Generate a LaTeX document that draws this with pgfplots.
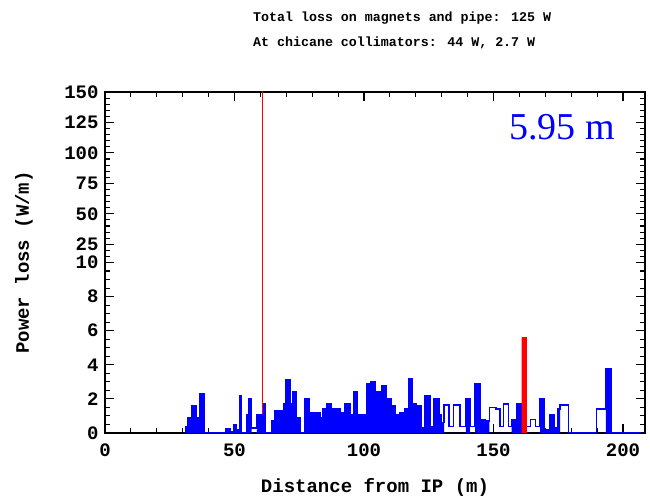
\documentclass[border=0pt]{standalone}
\usepackage{fontspec}
\setmainfont{Liberation Mono}
\newfontfamily\labelserif{Liberation Serif}
\usepackage{pgfplots}
\pgfplotsset{compat=1.18}
\usepackage{pgfplotstable}

% power loss per bin (W/m); "fill" = 0 where the bin is only outlined
\pgfplotstableread{
x all fill
30.9 0.4 0.4
31.8 0.9 0.9
33.5 1.6 1.6
35.4 0.9 0.9
36.7 2.3 2.3
38.2 0 0
46.7 0.25 0.25
48.5 0.1 0.1
49.5 0.5 0.5
50.8 0.2 0.2
51.9 2.2 2.2
52.8 0 0
54.7 1.1 1.1
55.3 2.0 2.0
56.6 0.3 0
58.6 1.1 1.1
60.7 1.7 1.7
62.0 0 0
64.3 0.7 0.7
65.6 1.3 1.3
66.9 1.3 1.3
68.9 1.7 1.7
69.8 3.1 3.1
71.4 1.7 1.7
72.5 2.4 2.4
74.0 0.9 0.9
75.3 0 0
77.2 2.0 2.0
78.9 1.2 1.2
80.4 1.2 1.2
83.0 0.9 0.9
84.0 1.4 1.4
85.6 1.7 1.7
87.5 1.4 1.4
90.7 1.2 1.2
92.7 1.7 1.7
94.6 0 0
95.2 1.1 1.1
95.9 2.4 2.4
97.4 1.1 1.1
101.0 2.9 2.9
102.6 3.0 3.0
104.2 2.4 2.4
106.2 1.6 1.6
106.8 2.8 2.8
108.8 2.0 2.0
110.7 1.6 1.6
112.0 1.1 1.1
113.9 1.2 1.2
115.2 0 0
115.8 1.4 1.4
117.1 3.2 3.2
118.8 1.7 1.7
120.3 1.6 1.6
122.3 0.3 0.3
123.6 2.2 2.2
125.5 0.4 0.4
127.0 2.0 2.0
129.0 1.1 1.1
130.0 0.6 0.6
130.9 1.65 0
132.8 0.4 0
134.5 1.65 0
137.1 0.4 0
139.3 2.0 2.0
140.9 0.4 0
142.9 2.9 2.9
144.8 0.8 0.8
146.7 0.7 0.7
148.4 1.5 0
151.0 1.4 0
152.5 0.4 0
153.8 1.7 0
155.7 0.4 0
157.0 0.8 0.8
159.0 1.7 1.7
160.9 0 0
162.5 0.4 0
164.4 0.8 0
166.3 0.4 0
168.0 2.0 2.0
169.5 0.2 0.2
171.8 1.1 1.1
173.4 0.3 0.3
174.6 1.4 1.4
175.7 1.65 0
178.9 0 0
189.8 1.4 0
193.4 3.75 3.75
195.6 0 0
207.0 0 0
}\losstable

% y axis is broken at 10: above it 14 W/m per plotted unit
\begin{document}
\begin{tikzpicture}
\begin{axis}[
    name=ax,
    scale only axis,
    width=540pt, height=341pt,
    xmin=0, xmax=208.5,
    ymin=0, ymax=20,
    xtick={0,50,100,150,200},
    xticklabels={0,50,100,150,200},
    minor xtick={10,20,...,200},
    ytick={0,2,4,6,8,10,11.0714,12.8571,14.6429,16.4286,18.2143,20},
    yticklabels={0,2,4,6,8,10,25,50,75,100,125,150},
    minor ytick={0.5,1,1.5,2.5,3,3.5,4.5,5,5.5,6.5,7,7.5,8.5,9,9.5,
      10.3571,10.7143,11.4286,11.7857,12.1429,12.5,13.2143,13.5714,13.9286,14.2857,
      15,15.3571,15.7143,16.0714,16.7857,17.1429,17.5,17.8571,18.5714,18.9286,19.2857,19.6429},
    major tick length=9pt,
    minor tick length=5pt,
    every tick/.style={black, line width=1.1pt},
    axis line style={line width=1.3pt},
    tick label style={font=\fontsize{19}{19}\selectfont\bfseries},
    xticklabel style={yshift=-7pt},
    yticklabel style={xshift=-3pt},
    label style={font=\fontsize{19}{19}\selectfont\bfseries},
    xlabel={Distance from IP (m)},
    ylabel={Power loss (W/m)},
    xlabel style={at={(axis description cs:0.5,-0.161)}, anchor=center},
    ylabel style={at={(axis description cs:-0.15,0.5)}, anchor=center},
]
\addplot[const plot, fill=blue, draw=none] table[x=x, y=fill] {\losstable} \closedcycle;
\addplot[const plot, blue, line width=1.3pt] table[x=x, y=all] {\losstable};
\addplot[const plot, fill=red, draw=red] coordinates {(160.9,5.6) (162.5,5.6)} \closedcycle;
\addplot[red, line width=1.6pt] coordinates {(60.8,1.1) (60.8,25)};
\end{axis}
\node[blue, font=\labelserif\fontsize{38}{38}\selectfont] at ([shift={(457pt,306pt)}]ax.south west) {5.95 m};
\node[anchor=north west, inner sep=0pt, align=left,
      font=\fontsize{13.3}{25}\selectfont\bfseries]
  at ([shift={(148pt,80pt)}]ax.north west)
  {Total loss on magnets and pipe: 125 W\\At chicane collimators: 44 W, 2.7 W};
\pgfresetboundingbox
\path[use as bounding box] ([shift={(-105pt,-67pt)}]ax.south west) rectangle ([shift={(5pt,92pt)}]ax.north east);
\end{tikzpicture}
\end{document}
